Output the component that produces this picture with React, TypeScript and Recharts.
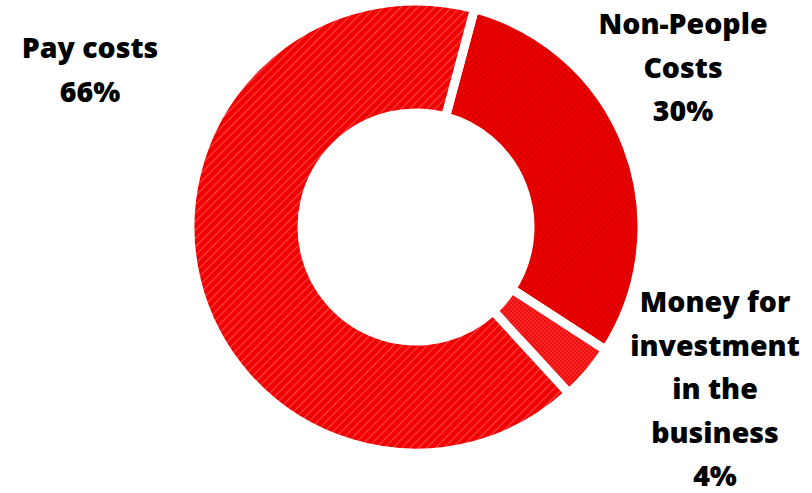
import React from "react";
import { PieChart, Pie, Cell } from "recharts";

const categories = ["Non-People Costs", "Money for investment in the business", "Pay costs"];
const labelLines = [["Non-People", "Costs"], ["Money for", "investment", "in the", "business"], ["Pay costs"]];
const values = [30, 4, 66];
const percentLabels = ["30%", "4%", "66%"];

const data = categories.map((name, i) => ({ name, value: values[i] }));

const fills = ["url(#patNP)", "url(#patMoney)", "url(#patPay)"];
// label anchor offsets from pie centre (layout, not data)
const labelOffsets = [
  { dx: 267, dy: -193 },
  { dx: 299, dy: 85 },
  { dx: -326, dy: -169 },
];
const LINE_H = 43.5;

const renderLabel = (props: any) => {
  const { cx, cy, index } = props;
  const off = labelOffsets[index];
  const lines = [...labelLines[index], percentLabels[index]];
  return (
    <text
      x={cx + off.dx}
      y={cy + off.dy}
      textAnchor="middle"
      fill="#000"
      fontFamily="'Open Sans', sans-serif"
      fontWeight={800}
      fontSize={28.5}
    >
      {lines.map((l, i) => (
        <tspan key={i} x={cx + off.dx} dy={i === 0 ? 0 : LINE_H}>
          {l}
        </tspan>
      ))}
    </text>
  );
};

export default function App() {
  return (
    <div style={{ position: "absolute", left: 0, top: 0, background: "#fff" }}>
      <PieChart width={812} height={493} margin={{ top: 0, right: 0, bottom: 0, left: 0 }}>
        <defs>
          <pattern id="patPay" width="6" height="6" patternUnits="userSpaceOnUse" patternTransform="rotate(45)">
            <rect width="6" height="6" fill="#f00000" />
            <rect width="1.2" height="6" fill="#ff4242" />
          </pattern>
          <pattern id="patNP" width="4" height="4" patternUnits="userSpaceOnUse" patternTransform="rotate(45)">
            <rect width="4" height="4" fill="#ec0000" />
            <rect width="1.2" height="4" fill="#d00000" />
          </pattern>
          <pattern id="patMoney" width="4" height="4" patternUnits="userSpaceOnUse">
            <rect width="4" height="4" fill="#ff2424" />
            <rect width="2" height="2" fill="#e81010" />
            <rect x="2" y="2" width="2" height="2" fill="#e81010" />
          </pattern>
        </defs>
        <Pie
          data={data}
          dataKey="value"
          nameKey="name"
          cx={416}
          cy={227}
          innerRadius={114}
          outerRadius={226}
          startAngle={75}
          endAngle={-285}
          stroke="#ffffff"
          strokeWidth={9}
          label={renderLabel}
          labelLine={false}
          isAnimationActive={false}
        >
          {data.map((d, i) => (
            <Cell key={d.name} fill={fills[i]} />
          ))}
        </Pie>
      </PieChart>
    </div>
  );
}
